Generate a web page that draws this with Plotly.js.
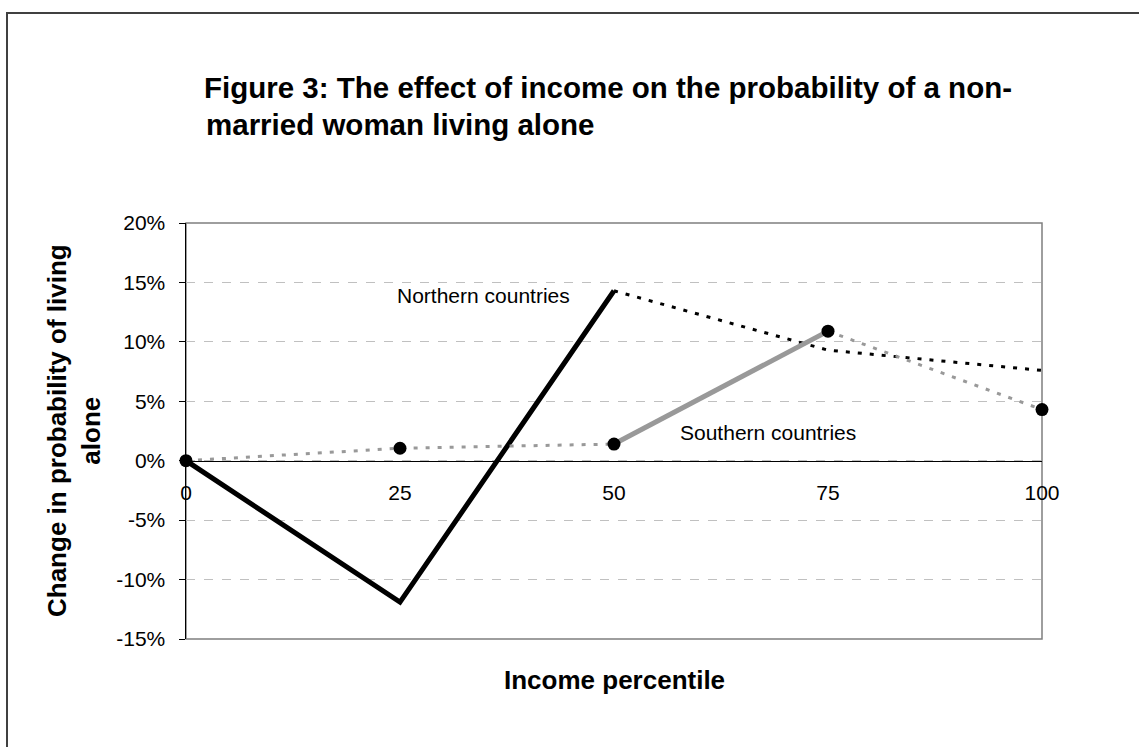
<!DOCTYPE html>
<html>
<head>
<meta charset="utf-8">
<script src="https://cdn.plot.ly/plotly-3.0.1.min.js"></script>
<style>
html, body { margin: 0; padding: 0; background: #ffffff; }
#chart { position: absolute; left: 0; top: 0; width: 1139px; height: 747px; }
#frame { position: absolute; left: 6px; top: 12px; width: 1200px; height: 800px;
         border-top: 2px solid #404040; border-left: 2px solid #404040; pointer-events: none; }
</style>
</head>
<body>
<div id="chart"></div>
<div id="frame"></div>
<script>
// ---- data ----
const percentiles = [0, 25, 50, 75, 100];
const xTickText = ['0', '25', '50', '75', '100'];
const northern = [0, -0.119, 0.143, 0.093, 0.076];
const southern = [0, 0.0105, 0.014, 0.109, 0.043];
const yTickVals = [-0.15, -0.10, -0.05, 0, 0.05, 0.10, 0.15, 0.20];
const yTickText = ['-15%', '-10%', '-5%', '0%', '5%', '10%', '15%', '20%'];
const titleLine1 = 'Figure 3: The effect of income on the probability of a non-';
const titleLine2 = 'married woman living alone';
const yTitle = 'Change in probability of living<br>alone';
const xTitle = 'Income percentile';
const labelNorth = 'Northern countries';
const labelSouth = 'Southern countries';

const FONT = 'Arial, "Liberation Sans", sans-serif';
const GRAY = '#999999';
const PLOT_L = 186, PLOT_R = 1042, PLOT_T = 223, PLOT_B = 639;
const PW = PLOT_R - PLOT_L, PH = PLOT_B - PLOT_T;

function seg(arr, a, b) { return arr.slice(a, b + 1); }

const traces = [
  // Northern: solid (0-50), dotted (50-100)
  { x: seg(percentiles, 0, 2), y: seg(northern, 0, 2), mode: 'lines',
    line: { color: '#000000', width: 5 }, hoverinfo: 'skip', showlegend: false },
  { x: seg(percentiles, 2, 4), y: seg(northern, 2, 4), mode: 'lines',
    line: { color: '#000000', width: 3, dash: '4px,8px' }, hoverinfo: 'skip', showlegend: false },
  // Southern: dotted (0-50), solid (50-75), dotted (75-100)
  { x: seg(percentiles, 0, 2), y: seg(southern, 0, 2), mode: 'lines',
    line: { color: GRAY, width: 3, dash: '4px,8px' }, hoverinfo: 'skip', showlegend: false },
  { x: seg(percentiles, 2, 3), y: seg(southern, 2, 3), mode: 'lines',
    line: { color: GRAY, width: 5 }, hoverinfo: 'skip', showlegend: false },
  { x: seg(percentiles, 3, 4), y: seg(southern, 3, 4), mode: 'lines',
    line: { color: GRAY, width: 3, dash: '4px,8px' }, hoverinfo: 'skip', showlegend: false },
  // Southern markers
  { x: percentiles, y: southern, mode: 'markers', cliponaxis: false,
    marker: { color: '#000000', size: 13, symbol: 'circle' }, hoverinfo: 'skip', showlegend: false }
];

const layout = {
  width: 1139, height: 747, autosize: false,
  paper_bgcolor: '#ffffff', plot_bgcolor: '#ffffff',
  margin: { l: PLOT_L, r: 1139 - PLOT_R, t: PLOT_T, b: 747 - PLOT_B, pad: 0 },
  font: { family: FONT, size: 21, color: '#000000' },
  showlegend: false,
  title: {
    text: titleLine1,
    xref: 'container', x: 204 / 1139, xanchor: 'left',
    yref: 'container', y: 1 - 88 / 747, yanchor: 'middle',
    font: { family: FONT, size: 29.5, weight: 700, color: '#000000' }
  },
  xaxis: {
    range: [0, 100], anchor: 'free', position: 15 / 35,
    tickvals: percentiles, ticktext: xTickText, ticks: '',
    ticklabelstandoff: 13,
    showline: true, linecolor: '#000000', linewidth: 1.5,
    showgrid: false, zeroline: false,
    tickfont: { family: FONT, size: 21, color: '#000000' }
  },
  yaxis: {
    range: [-0.15, 0.20],
    tickvals: yTickVals, ticktext: yTickText,
    ticks: 'outside', ticklen: 6, tickcolor: '#000000', tickwidth: 1,
    ticklabelstandoff: 9,
    showline: true, linecolor: '#000000', linewidth: 1.5,
    showgrid: true, gridcolor: '#c0c0c0', gridwidth: 1, griddash: 'dash',
    zeroline: false,
    tickfont: { family: FONT, size: 21, color: '#000000' }
  },
  shapes: [
    { type: 'rect', xref: 'paper', yref: 'paper', x0: 0, x1: 1, y0: 0, y1: 1,
      line: { color: '#7f7f7f', width: 1.5 }, layer: 'below' }
  ],
  annotations: [
    { text: titleLine2, xref: 'paper', x: (204 - PLOT_L) / PW, xanchor: 'left',
      yref: 'paper', y: (PLOT_B - 124) / PH, yanchor: 'middle', showarrow: false,
      font: { family: FONT, size: 29.5, weight: 700, color: '#000000' } },
    { text: yTitle, textangle: -90, xref: 'paper', x: (74 - PLOT_L) / PW, xanchor: 'center',
      yref: 'paper', y: 0.5, yanchor: 'middle', showarrow: false,
      font: { family: FONT, size: 26, weight: 700, color: '#000000' } },
    { text: xTitle, xref: 'paper', x: 0.5, xanchor: 'center',
      yref: 'paper', y: (PLOT_B - 680) / PH, yanchor: 'middle', showarrow: false,
      font: { family: FONT, size: 26, weight: 700, color: '#000000' } },
    { text: labelNorth, x: 34.8, y: 0.139, xref: 'x', yref: 'y', showarrow: false,
      xanchor: 'center', yanchor: 'middle', font: { family: FONT, size: 21, color: '#000000' } },
    { text: labelSouth, x: 68.0, y: 0.024, xref: 'x', yref: 'y', showarrow: false,
      xanchor: 'center', yanchor: 'middle', font: { family: FONT, size: 21, color: '#000000' } }
  ]
};

Plotly.newPlot('chart', traces, layout, { staticPlot: true, displayModeBar: false });
</script>
</body>
</html>
